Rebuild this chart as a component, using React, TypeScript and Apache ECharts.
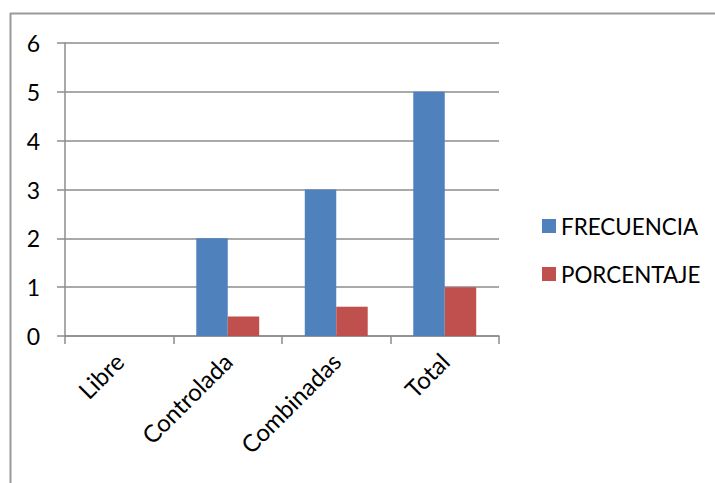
import React, { useEffect, useRef } from "react";
import * as echarts from "echarts";

const categories = ["Libre", "Controlada", "Combinadas", "Total"];
const frecuencia = [0, 2, 3, 5];
const porcentaje = [0, 0.4, 0.6, 1];
const yTicks = { min: 0, max: 6, interval: 1 };

const FONT = "Lato, 'Open Sans', sans-serif";

export default function App() {
  const ref = useRef<HTMLDivElement>(null);

  useEffect(() => {
    if (!ref.current) return;
    const chart = echarts.init(ref.current, undefined, { renderer: "svg" });
    chart.setOption({
      animation: false,
      backgroundColor: "#ffffff",
      textStyle: { fontFamily: FONT },
      graphic: [
        {
          type: "line",
          shape: { x1: 10, y1: 13.5, x2: 715, y2: 13.5 },
          style: { stroke: "#9a9a9a", lineWidth: 2 },
          silent: true,
        },
        {
          type: "line",
          shape: { x1: 10.5, y1: 13, x2: 10.5, y2: 483 },
          style: { stroke: "#9a9a9a", lineWidth: 2 },
          silent: true,
        },
      ],
      legend: {
        orient: "vertical",
        left: 542,
        top: 215,
        padding: 0,
        itemWidth: 14,
        itemHeight: 14,
        itemGap: 26,
        icon: "rect",
        textStyle: {
          fontFamily: FONT,
          fontSize: 22.4,
          color: "#000000",
          lineHeight: 22,
        },
        data: ["FRECUENCIA", "PORCENTAJE"],
      },
      grid: {
        left: 65,
        right: 216,
        top: 43,
        bottom: 147,
        containLabel: false,
      },
      xAxis: {
        type: "category",
        data: categories,
        boundaryGap: true,
        axisLine: { show: true, lineStyle: { color: "#8c8c8c", width: 1.5 } },
        axisTick: {
          show: true,
          length: 8,
          alignWithLabel: false,
          lineStyle: { color: "#8c8c8c", width: 1.5 },
        },
        axisLabel: {
          rotate: 45,
          margin: 21,
          fontFamily: FONT,
          fontSize: 24,
          color: "#000000",
          interval: 0,
        },
      },
      yAxis: {
        type: "value",
        min: yTicks.min,
        max: yTicks.max,
        interval: yTicks.interval,
        axisLine: { show: true, lineStyle: { color: "#8c8c8c", width: 1.5 } },
        axisTick: {
          show: true,
          length: 8,
          lineStyle: { color: "#8c8c8c", width: 1.5 },
        },
        splitLine: { show: true, lineStyle: { color: "#8c8c8c", width: 1.5 } },
        axisLabel: {
          margin: 25,
          fontFamily: FONT,
          fontSize: 23,
          color: "#000000",
        },
      },
      series: [
        {
          name: "FRECUENCIA",
          type: "bar",
          data: frecuencia,
          barGap: "0%",
          barCategoryGap: "42%",
          itemStyle: { color: "#4F81BD" },
        },
        {
          name: "PORCENTAJE",
          type: "bar",
          data: porcentaje,
          barGap: "0%",
          barCategoryGap: "42%",
          itemStyle: { color: "#C0504D" },
        },
      ],
    });
    return () => chart.dispose();
  }, []);

  return (
    <div
      ref={ref}
      style={{ width: 715, height: 483, position: "absolute", left: 0, top: 0 }}
    />
  );
}
